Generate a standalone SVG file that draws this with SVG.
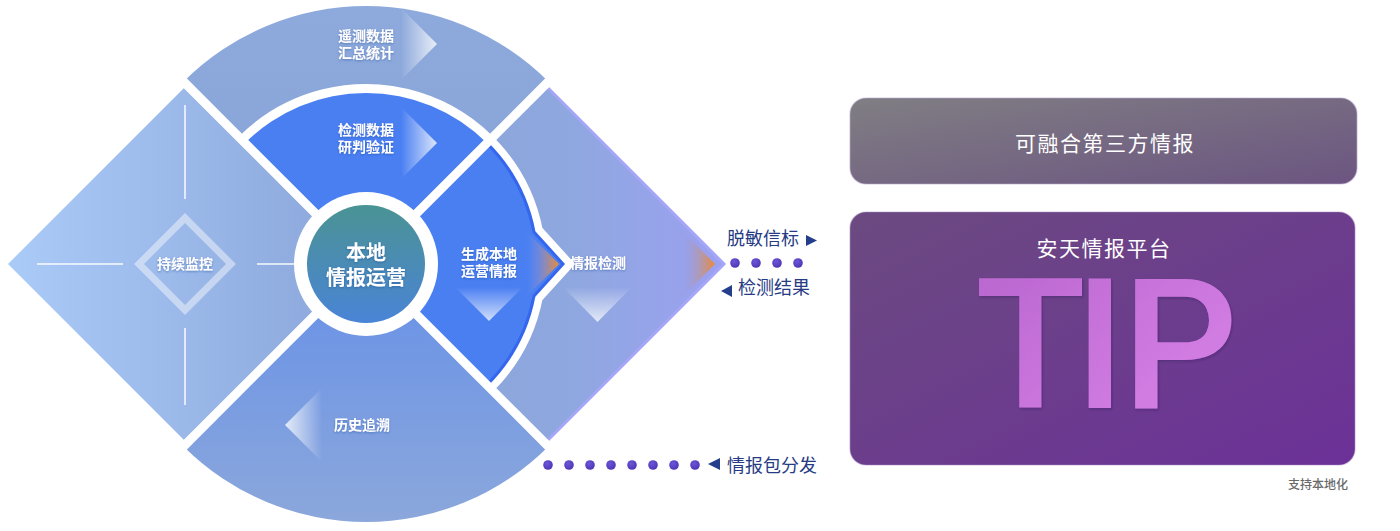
<svg xmlns="http://www.w3.org/2000/svg" width="1400" height="531" viewBox="0 0 1400 531">
<defs>
<linearGradient id="gLeft" x1="10" y1="0" x2="366" y2="0" gradientUnits="userSpaceOnUse"><stop offset="0" stop-color="#aacaf7"/><stop offset="1" stop-color="#8aa5da"/></linearGradient>
<linearGradient id="gTop" x1="0" y1="6" x2="0" y2="180" gradientUnits="userSpaceOnUse"><stop offset="0" stop-color="#8eaadc"/><stop offset="1" stop-color="#89a5d9"/></linearGradient>
<linearGradient id="gRight" x1="366" y1="0" x2="726" y2="0" gradientUnits="userSpaceOnUse"><stop offset="0" stop-color="#8aa5d9"/><stop offset="0.55" stop-color="#8ea8df"/><stop offset="1" stop-color="#9ca0f1"/></linearGradient>
<linearGradient id="gBottom" x1="0" y1="264" x2="0" y2="522" gradientUnits="userSpaceOnUse"><stop offset="0" stop-color="#6690e8"/><stop offset="1" stop-color="#8ba7db"/></linearGradient>
<linearGradient id="gCenter" x1="0" y1="0" x2="0" y2="1"><stop offset="0" stop-color="#4a9394"/><stop offset="1" stop-color="#4a84d6"/></linearGradient>
<linearGradient id="gChevR" x1="0" y1="0" x2="1" y2="0"><stop offset="0" stop-color="#ffffff" stop-opacity="0"/><stop offset="1" stop-color="#ffffff" stop-opacity="0.8"/></linearGradient>
<linearGradient id="gChevL" x1="0" y1="0" x2="1" y2="0"><stop offset="0" stop-color="#ffffff" stop-opacity="0.8"/><stop offset="1" stop-color="#ffffff" stop-opacity="0"/></linearGradient>
<linearGradient id="gChevD" x1="0" y1="0" x2="0" y2="1"><stop offset="0" stop-color="#ffffff" stop-opacity="0"/><stop offset="1" stop-color="#ffffff" stop-opacity="0.75"/></linearGradient>
<linearGradient id="gOrange" x1="0" y1="0" x2="1" y2="0"><stop offset="0" stop-color="#8f9cf0" stop-opacity="0"/><stop offset="1" stop-color="#ec8a33"/></linearGradient>
<linearGradient id="gBox1" x1="0" y1="0" x2="1" y2="1"><stop offset="0" stop-color="#807e83"/><stop offset="1" stop-color="#6c5581"/></linearGradient>
<linearGradient id="gBox2" x1="0" y1="0" x2="1" y2="1"><stop offset="0" stop-color="#6b4a80"/><stop offset="1" stop-color="#6c3198"/></linearGradient>
<linearGradient id="gTip" x1="0" y1="0" x2="1" y2="1"><stop offset="0" stop-color="#b764ce"/><stop offset="1" stop-color="#dc86ea"/></linearGradient>
<radialGradient id="gDot" cx="0.4" cy="0.35" r="0.7"><stop offset="0" stop-color="#6d55d8"/><stop offset="1" stop-color="#4c34b4"/></radialGradient>
<filter id="sh" x="-20%" y="-20%" width="140%" height="140%"><feDropShadow dx="0" dy="1" stdDeviation="1" flood-color="#1f3f8f" flood-opacity="0.45"/></filter>
<filter id="tsh" x="-10%" y="-10%" width="120%" height="120%"><feDropShadow dx="1" dy="1.5" stdDeviation="1" flood-color="#3a1260" flood-opacity="0.4"/></filter>
</defs>
<style>
.lbl{font-family:"Noto Sans CJK SC","Noto Sans",sans-serif;font-weight:700;fill:#ffffff;text-anchor:middle;font-size:14px}
.big{font-size:20px}
.side{font-family:"Noto Sans CJK SC","Noto Sans",sans-serif;font-size:18px;fill:#273b85}
.tri{fill:#233f8c}
.dot{fill:url(#gDot)}
.box{font-family:"Noto Sans CJK SC","Noto Sans",sans-serif;font-size:21px;fill:#ffffff;text-anchor:middle;letter-spacing:1.5px}
.sep{stroke:#ffffff;stroke-width:9;fill:none}
.deco{stroke:#ffffff;stroke-opacity:0.7;stroke-width:2}
.tip{font-family:Roboto,"Liberation Sans",sans-serif;font-weight:500;font-size:182px;fill:url(#gTip)}
</style>

<g id="node-top">
<path d="M366,264 L183.6,81.6 A258,258 0 0 1 548.4,81.6 Z" fill="url(#gTop)"/>
<polygon points="401,8 437,44 401,80" fill="url(#gChevR)"/>
<text class="lbl" x="366" y="41" filter="url(#sh)">遥测数据</text>
<text class="lbl" x="366" y="58" filter="url(#sh)">汇总统计</text>
</g>

<g id="node-bottom">
<path d="M366,264 L548.4,446.4 A258,258 0 0 1 183.6,446.4 Z" fill="url(#gBottom)"/>
<polygon points="322,388 285,425 322,462" fill="url(#gChevL)"/>
<text class="lbl" x="362" y="430" filter="url(#sh)">历史追溯</text>
</g>

<g id="node-left">
<path d="M366,264 L187,85 L8,264 L187,443 Z" fill="url(#gLeft)"/>
<line class="deco" x1="185" y1="105" x2="185" y2="199"/>
<line class="deco" x1="185" y1="328" x2="185" y2="405"/>
<line class="deco" x1="37" y1="264" x2="123" y2="264"/>
<line class="deco" x1="257" y1="264" x2="300" y2="264"/>
<polygon points="185,218 231,264 185,310 139,264" fill="none" stroke="#ffffff" stroke-opacity="0.45" stroke-width="7"/>
<text class="lbl" x="185" y="269" filter="url(#sh)">持续监控</text>
</g>

<g id="node-right">
<path d="M366,264 L545,85 L724,264 L545,443 Z" fill="url(#gRight)"/>
<polyline points="545,85 724,264 545,443" fill="none" stroke="#a5a6f8" stroke-width="3"/>
<polygon points="680,229 715,264 680,299" fill="url(#gOrange)"/>
<polygon points="563,287 632,287 597.5,322" fill="url(#gChevD)"/>
<text class="lbl" x="598" y="268" filter="url(#sh)">情报检测</text>
</g>

<g id="inner-gap">
<path d="M245.1,143.1 A171,171 0 0 1 534,232 L563,264 L534,296 A171,171 0 0 1 486.9,384.9" fill="none" stroke="#ffffff" stroke-width="18"/>
</g>

<g id="node-verify">
<path d="M366,264 L245.1,143.1 A171,171 0 0 1 486.9,143.1 Z" fill="#4a7ff2"/>
<polygon points="401,107 437,143 401,179" fill="url(#gChevR)"/>
<text class="lbl" x="366" y="135" filter="url(#sh)">检测数据</text>
<text class="lbl" x="366" y="152" filter="url(#sh)">研判验证</text>
</g>

<g id="node-generate">
<path d="M366,264 L486.9,143.1 A171,171 0 0 1 534,232 L563,264 L534,296 A171,171 0 0 1 486.9,384.9 Z" fill="#4a7ff2"/>
<path d="M486.9,143.1 A171,171 0 0 1 534,232 L563,264 L534,296 A171,171 0 0 1 486.9,384.9" fill="none" stroke="#3467ee" stroke-width="3"/>
<polygon points="527,232 559,264 527,296" fill="url(#gOrange)"/>
<polygon points="455,287 523,287 489,321" fill="url(#gChevD)"/>
<text class="lbl" x="489" y="259" filter="url(#sh)">生成本地</text>
<text class="lbl" x="489" y="276" filter="url(#sh)">运营情报</text>
</g>

<g id="separators">
<line class="sep" x1="182" y1="80" x2="550" y2="448"/>
<line class="sep" x1="550" y1="80" x2="182" y2="448"/>
</g>

<g id="node-center">
<circle cx="366" cy="264" r="72" fill="#ffffff"/>
<circle cx="366" cy="264" r="59" fill="url(#gCenter)"/>
<text class="lbl big" x="366" y="260" filter="url(#sh)">本地</text>
<text class="lbl big" x="366" y="285" filter="url(#sh)">情报运营</text>
</g>

<g id="connectors">
<text class="side" x="727" y="245">脱敏信标</text>
<polygon class="tri" points="806,235 817,240.5 806,246"/>
<circle class="dot" cx="735" cy="263" r="4.8"/>
<circle class="dot" cx="756" cy="263" r="4.8"/>
<circle class="dot" cx="777" cy="263" r="4.8"/>
<circle class="dot" cx="798" cy="263" r="4.8"/>
<polygon class="tri" points="732,285 721,291 732,297"/>
<text class="side" x="738" y="294">检测结果</text>
<circle class="dot" cx="548" cy="465" r="4.8"/>
<circle class="dot" cx="569" cy="465" r="4.8"/>
<circle class="dot" cx="590" cy="465" r="4.8"/>
<circle class="dot" cx="611" cy="465" r="4.8"/>
<circle class="dot" cx="632" cy="465" r="4.8"/>
<circle class="dot" cx="653" cy="465" r="4.8"/>
<circle class="dot" cx="674" cy="465" r="4.8"/>
<circle class="dot" cx="695" cy="465" r="4.8"/>
<polygon class="tri" points="720,458 708,464 720,470"/>
<text class="side" x="727" y="472">情报包分发</text>
</g>

<g id="node-thirdparty">
<rect x="850" y="98" width="507" height="86" rx="16" fill="url(#gBox1)" stroke="#b9a9cc" stroke-opacity="0.6" stroke-width="1.2"/>
<text class="box" x="1105" y="151">可融合第三方情报</text>
</g>

<g id="node-tip">
<rect x="850" y="212" width="505" height="253" rx="16" fill="url(#gBox2)" stroke="#a88cc4" stroke-opacity="0.5" stroke-width="1.2"/>
<text class="box" x="1104" y="256">安天情报平台</text>
<text class="tip" x="975 1074 1122" y="408" filter="url(#tsh)">TIP</text>
<text x="1318" y="489" text-anchor="middle" font-family="Noto Sans CJK SC, Noto Sans, sans-serif" font-weight="500" font-size="12" fill="#6a6a6a">支持本地化</text>
</g>
</svg>
